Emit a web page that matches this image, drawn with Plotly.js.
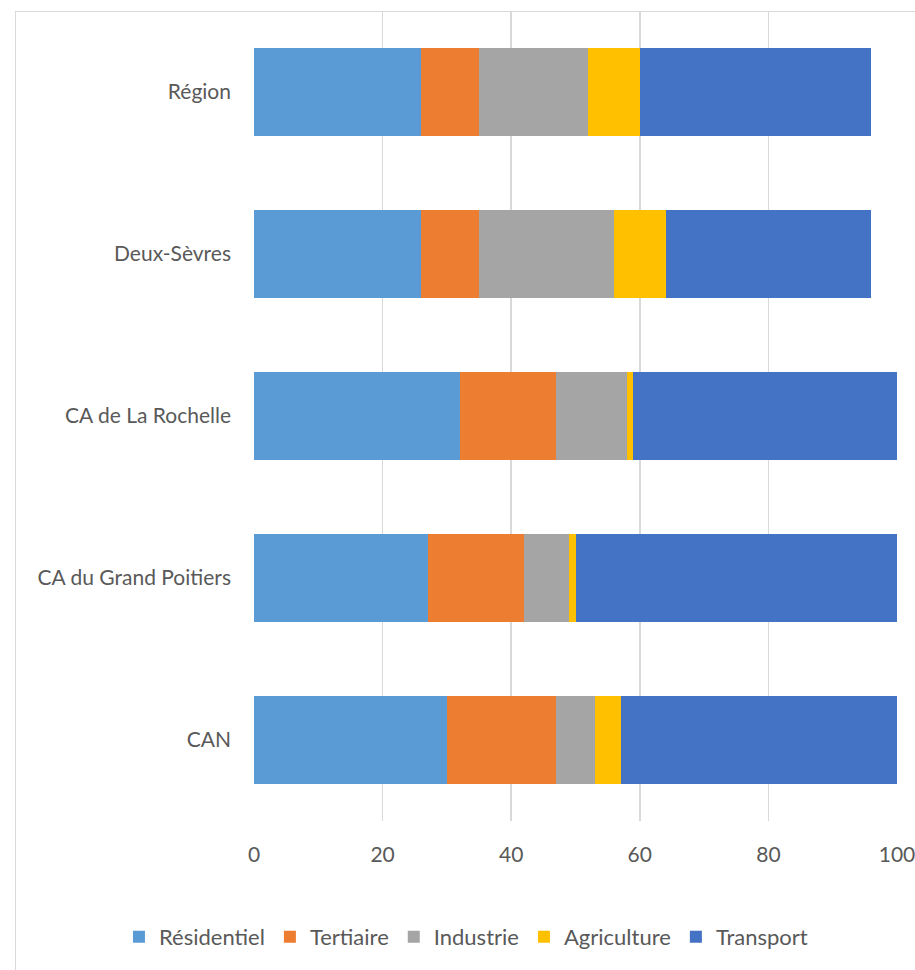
<!DOCTYPE html>
<html>
<head>
<meta charset="utf-8">
<script src="https://cdn.plot.ly/plotly-3.0.1.min.js"></script>
<style>
  html, body { margin: 0; padding: 0; background: #fff; overflow: hidden; }
  #frame { position: absolute; left: 15px; top: 11px; width: 1000px; height: 1000px; border: 1px solid #d9d9d9; box-sizing: border-box; }
  #chart { position: absolute; left: 0; top: 0; width: 915px; height: 970px; }
</style>
</head>
<body>
<div id="frame"></div>
<div id="chart"></div>
<script>
const categories = ["Région", "Deux-Sèvres", "CA de La Rochelle", "CA du Grand Poitiers", "CAN"];
const seriesNames = ["Résidentiel", "Tertiaire", "Industrie", "Agriculture", "Transport"];
const residentiel = [26, 26, 32, 27, 30];
const tertiaire   = [9, 9, 15, 15, 17];
const industrie   = [17, 21, 11, 7, 6];
const agriculture = [8, 8, 1, 1, 4];
const transport   = [36, 32, 41, 50, 43];
const xTicks = [0, 20, 40, 60, 80, 100];
const colors = ["#5B9BD5", "#ED7D31", "#A5A5A5", "#FFC000", "#4472C4"];

const values = [residentiel, tertiaire, industrie, agriculture, transport];
const traces = values.map((v, i) => ({
  type: "bar",
  orientation: "h",
  name: seriesNames[i],
  y: categories,
  x: v,
  marker: { color: colors[i], line: { width: 0 } },
  hoverinfo: "x+name"
}));

const fam = "Lato, 'Liberation Sans', sans-serif";
const txtColor = "#595959";

const layout = {
  width: 915, height: 970,
  paper_bgcolor: "rgba(0,0,0,0)",
  plot_bgcolor: "rgba(0,0,0,0)",
  barmode: "stack",
  bargap: 0.457,
  margin: { l: 254, r: 18, t: 11, b: 149, autoexpand: false },
  font: { family: fam, color: txtColor, size: 21 },
  showlegend: true,
  legend: {
    orientation: "h",
    x: -0.21, xanchor: "left",
    y: -0.143, yanchor: "middle",
    font: { family: fam, color: txtColor, size: 22 },
    traceorder: "normal",
    itemwidth: 30
  },
  xaxis: {
    range: [0, 100],
    tickvals: xTicks,
    ticktext: xTicks.map(String),
    showgrid: true,
    gridcolor: "#d9d9d9",
    gridwidth: 1.5,
    zeroline: false,
    showline: false,
    ticks: "",
    ticklabelstandoff: 19,
    ticklabeloverflow: "allow",
    automargin: false,
    tickfont: { family: fam, color: txtColor, size: 21 },
    fixedrange: true
  },
  yaxis: {
    categoryorder: "array",
    categoryarray: categories,
    autorange: "reversed",
    showgrid: false,
    zeroline: false,
    showline: false,
    ticks: "",
    ticklabelstandoff: 22,
    automargin: false,
    tickfont: { family: fam, color: txtColor, size: 21 },
    fixedrange: true
  }
};

Plotly.newPlot("chart", traces, layout, { displayModeBar: false, staticPlot: true });
</script>
</body>
</html>
